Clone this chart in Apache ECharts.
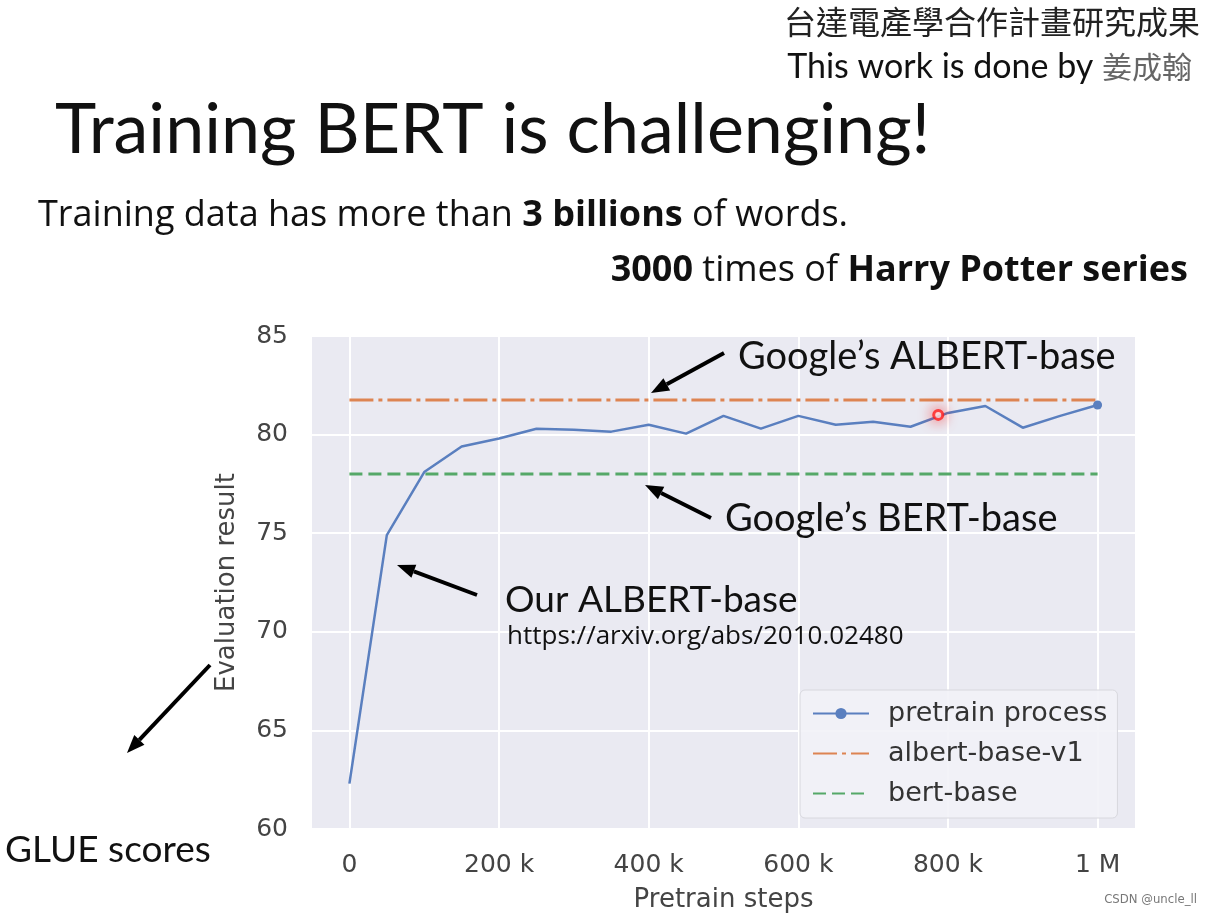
<!DOCTYPE html>
<html>
<head>
<meta charset="utf-8">
<script src="https://cdn.jsdelivr.net/npm/echarts@6/dist/echarts.min.js"></script>
<style>
  html, body { margin: 0; padding: 0; background: #fff; }
  #chart { width: 1211px; height: 918px; }
</style>
</head>
<body>
<div id="chart"></div>
<script>
// pretrain steps and GLUE scores
const steps = [0, 50000, 100000, 150000, 200000, 250000, 300000, 350000, 400000, 450000, 500000,
  550000, 600000, 650000, 700000, 750000, 800000, 850000, 900000, 950000, 1000000]
const pretrain = [62.3, 74.9, 78.1, 79.4, 79.8, 80.3, 80.25, 80.15, 80.5, 80.05, 80.95,
  80.3, 80.95, 80.5, 80.65, 80.4, 81.1, 81.45, 80.35, 80.95, 81.5]
const refSteps = [0, 1000000]
const albertBase = [81.75, 81.75]
const bertBase = [78.0, 78.0]
const xTicks = [0, 200000, 400000, 600000, 800000, 1000000]
const pointer = [[787000, 81.0]] // red laser pointer dot in the frame

const chart = echarts.init(document.getElementById('chart'))

const slideFont = 'Lato, "Open Sans", sans-serif'
const wideFont = '"Open Sans", Lato, sans-serif'
const plotFont = '"DejaVu Sans", sans-serif'

const pretrainData = steps.map((s, i) => ({
  value: [s, pretrain[i]],
  symbolSize: i === steps.length - 1 ? 9 : 0
}))

function arrow(x1, y1, x2, y2) {
  const a = Math.atan2(y2 - y1, x2 - x1)
  const len = 18, w = 7
  const bx = x2 - len * Math.cos(a), by = y2 - len * Math.sin(a)
  return [
    { type: 'line', shape: { x1: x1, y1: y1, x2: bx, y2: by }, style: { stroke: '#000', lineWidth: 4 }, z: 100 },
    {
      type: 'polygon',
      shape: { points: [[x2, y2], [bx + w * Math.sin(a), by - w * Math.cos(a)], [bx - w * Math.sin(a), by + w * Math.cos(a)]] },
      style: { fill: '#000' }, z: 100
    }
  ]
}

function label(x, y, text, size, extra, family) {
  return {
    type: 'text', x: x, y: y, z: 100,
    style: Object.assign({ text: text, font: size + 'px ' + (family || slideFont), fill: '#111', textVerticalAlign: 'middle' }, extra || {})
  }
}

// hide the default circle on the legend icon of the plain reference lines
const noDot = { color: 'rgba(0,0,0,0)', borderWidth: 0 }

chart.setOption({
  animation: false,
  grid: { left: 312, right: 76, top: 336, bottom: 87, show: true, backgroundColor: '#EAEAF2', borderWidth: 0 },
  xAxis: {
    type: 'value',
    min: -50000,
    max: 1050000,
    name: 'Pretrain steps',
    nameLocation: 'middle',
    nameGap: 58,
    nameTextStyle: { fontFamily: plotFont, fontSize: 26, color: '#444' },
    axisLine: { show: false },
    axisTick: { show: false, customValues: xTicks },
    axisLabel: {
      customValues: xTicks,
      margin: 24,
      fontFamily: plotFont,
      fontSize: 25,
      color: '#444',
      formatter: v => v === 0 ? '0' : v >= 1000000 ? (v / 1000000) + ' M' : (v / 1000) + ' k'
    },
    splitLine: { show: true, lineStyle: { color: '#fff', width: 2 } }
  },
  yAxis: {
    type: 'value',
    min: 60,
    max: 85,
    interval: 5,
    name: 'Evaluation result',
    nameLocation: 'middle',
    nameGap: 72,
    nameTextStyle: { fontFamily: plotFont, fontSize: 26, color: '#444' },
    axisLine: { show: false },
    axisTick: { show: false },
    axisLabel: { margin: 24, fontFamily: plotFont, fontSize: 25, color: '#444' },
    splitLine: { show: true, lineStyle: { color: '#fff', width: 2 } }
  },
  legend: {
    orient: 'vertical',
    left: 800,
    top: 690,
    padding: [10, 10, 11, 12],
    itemGap: 13,
    itemWidth: 56,
    itemHeight: 14,
    backgroundColor: 'rgba(242,242,247,0.9)',
    borderColor: '#d8d8de',
    borderWidth: 1,
    borderRadius: 5,
    textStyle: { fontFamily: plotFont, fontSize: 27, color: '#333', lineHeight: 26, padding: [0, 0, 0, 14] },
    data: [
      { name: 'pretrain process' },
      { name: 'albert-base-v1', itemStyle: noDot },
      { name: 'bert-base', itemStyle: noDot }
    ]
  },
  series: [
    {
      name: 'albert-base-v1',
      type: 'line',
      data: refSteps.map((s, i) => [s, albertBase[i]]),
      symbol: 'none',
      color: '#DD8452',
      lineStyle: { width: 3, type: [24, 5, 4, 5] },
      z: 3
    },
    {
      name: 'bert-base',
      type: 'line',
      data: refSteps.map((s, i) => [s, bertBase[i]]),
      symbol: 'none',
      color: '#55A868',
      lineStyle: { width: 3, type: [13, 6] },
      z: 3
    },
    {
      name: 'pretrain process',
      type: 'line',
      data: pretrainData,
      symbol: 'circle',
      symbolSize: 9,
      color: '#5A7FBF',
      lineStyle: { width: 2.5 },
      z: 4
    },
    {
      name: 'pointer',
      type: 'scatter',
      data: pointer,
      symbol: 'circle',
      symbolSize: 9,
      itemStyle: { color: '#fff', borderColor: '#ff1a1a', borderWidth: 3, shadowBlur: 14, shadowColor: 'rgba(255,0,0,0.8)' },
      z: 6
    }
  ],
  graphic: [
    label(1200, 22, '台達電產學合作計畫研究成果', 32, { textAlign: 'right', fill: '#222' }, '"Noto Sans CJK TC", sans-serif'),
    {
      type: 'text', x: 1192, y: 67, z: 100,
      style: {
        text: '{a|This work is done by }{b|姜成翰}',
        textAlign: 'right', textVerticalAlign: 'middle',
        rich: {
          a: { fontFamily: slideFont, fontSize: 34, fill: '#111', color: '#111' },
          b: { fontFamily: '"Noto Sans CJK TC", sans-serif', fontSize: 30, fill: '#666', color: '#666' }
        }
      }
    },
    label(55, 130, 'Training BERT is challenging!', 70),
    {
      type: 'text', x: 38, y: 216, z: 100,
      style: {
        text: '{a|Training data has more than }{b|3 billions}{a| of words.}',
        textVerticalAlign: 'middle',
        rich: {
          a: { fontFamily: wideFont, fontSize: 36, color: '#111', fill: '#111' },
          b: { fontFamily: wideFont, fontSize: 36, fontWeight: 'bold', color: '#111', fill: '#111' }
        }
      }
    },
    {
      type: 'text', x: 1188, y: 271, z: 100,
      style: {
        text: '{b|3000}{a| times of }{b|Harry Potter series}',
        textAlign: 'right', textVerticalAlign: 'middle',
        rich: {
          a: { fontFamily: wideFont, fontSize: 36, color: '#111', fill: '#111' },
          b: { fontFamily: wideFont, fontSize: 36, fontWeight: 'bold', color: '#111', fill: '#111' }
        }
      }
    },
    label(738, 357, 'Google\u2019s ALBERT-base', 38),
    label(725, 519, 'Google\u2019s BERT-base', 38),
    label(505, 600, 'Our ALBERT-base', 37),
    label(507, 637, 'https://arxiv.org/abs/2010.02480', 26, null, wideFont),
    label(5, 850, 'GLUE scores', 37),
    label(1197, 900, 'CSDN @uncle_ll', 13, { textAlign: 'right', fill: '#777' }, '"DejaVu Sans Condensed", sans-serif'),
    ...arrow(724, 353, 651, 393),
    ...arrow(711, 518, 645, 485),
    ...arrow(477, 595, 397, 565),
    ...arrow(210, 665, 127, 753)
  ]
})
</script>
</body>
</html>
